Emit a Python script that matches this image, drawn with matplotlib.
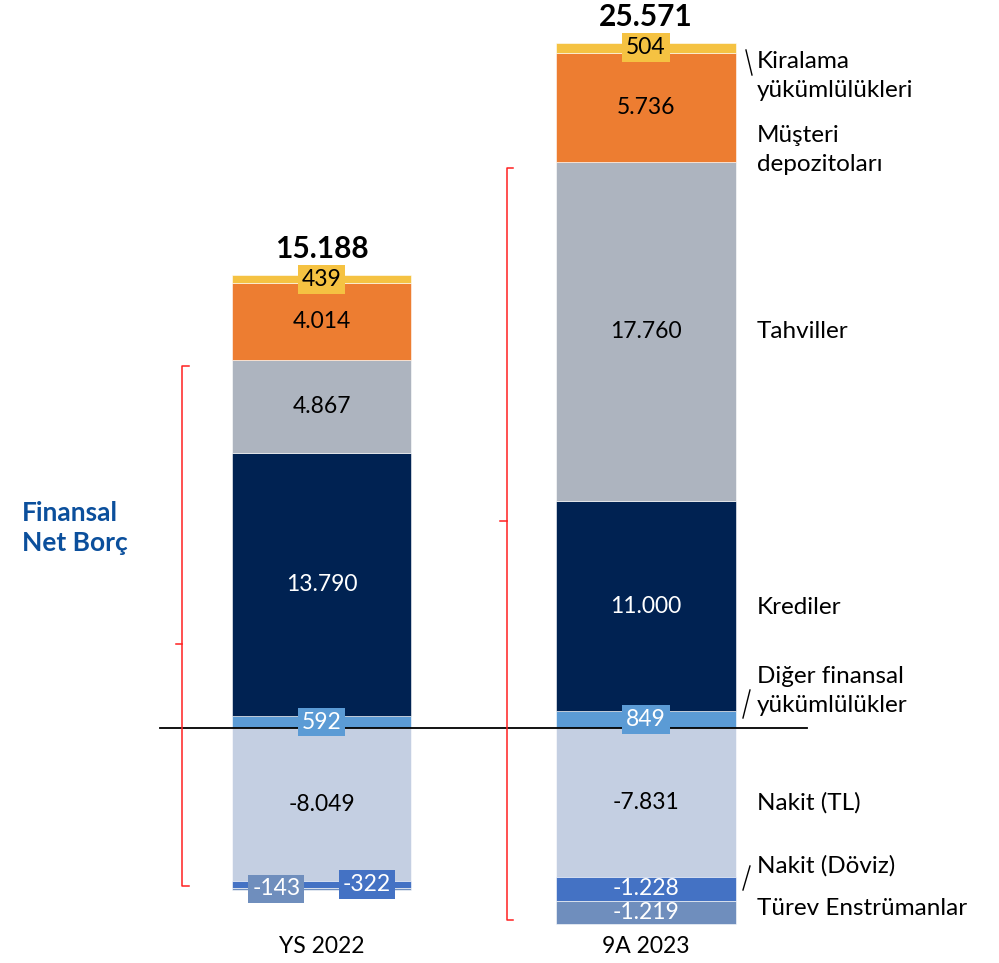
import numpy as np
import matplotlib
matplotlib.use('Agg')
import matplotlib.pyplot as plt

plt.rcParams['font.family'] = ['Lato', 'DejaVu Sans']

###############################################################################
##                                   Data                                    ##
###############################################################################

categories = ['YS 2022', '9A 2023']
totals = [15188, 25571]

# stacked from zero upwards
diger = [592, 849]
krediler = [13790, 11000]
tahviller = [4867, 17760]
musteri = [4014, 5736]
kiralama = [439, 504]

# stacked from zero downwards
nakit_tl = [-8049, -7831]
nakit_doviz = [-322, -1228]
turev = [-143, -1219]

seg_names = ['Diğer finansal\nyükümlülükler', 'Krediler', 'Tahviller',
             'Müşteri\ndepozitoları', 'Kiralama\nyükümlülükleri',
             'Nakit (TL)', 'Nakit (Döviz)', 'Türev Enstrümanlar']

###############################################################################
##                                   Style                                   ##
###############################################################################

C_DIGER = '#5b9bd5'
C_KREDI = '#002252'
C_TAHVIL = '#adb4bf'
C_MUSTERI = '#ed7d31'
C_KIRA = '#f5c242'
C_NAKIT_TL = '#c4cfe2'
C_DOVIZ = '#4472c4'
C_TUREV = '#6f8ebd'
C_BLUE_TXT = '#0b4f9c'

FS = 16.5
FS_LAB = 17.5
BAR_W = 0.553

def fmt(v):
    return '{:,}'.format(v).replace(',', '.')

###############################################################################
##                                   Plot                                    ##
###############################################################################

fig = plt.figure(figsize=(9.99, 9.63), dpi=100)
ax = fig.add_axes([0, 0, 1, 1])
ax.set_xlim(-0.991, 2.088)
ax.set_ylim(-12320, 38102)
ax.axis('off')

# helpers to go from pixel (from top-left) to data, used for the annotation bits
def px2x(p):
    return (p - 321.5) / 324.5

def px2y(p):
    return (727.7 - p) * 52.36

x = np.arange(len(categories))

pos_series = [(diger, C_DIGER, 'w'), (krediler, C_KREDI, 'w'), (tahviller, C_TAHVIL, 'k'),
              (musteri, C_MUSTERI, 'k'), (kiralama, C_KIRA, 'k')]
neg_series = [(nakit_tl, C_NAKIT_TL, 'k'), (nakit_doviz, C_DOVIZ, 'w'), (turev, C_TUREV, 'w')]

bottom_pos = np.zeros(len(x))
pos_bounds = []
for vals, col, tcol in pos_series:
    vals = np.array(vals, dtype=float)
    ax.bar(x, vals, BAR_W, bottom=bottom_pos, color=col, edgecolor='white', linewidth=0.4)
    pos_bounds.append((bottom_pos.copy(), bottom_pos + vals))
    bottom_pos = bottom_pos + vals

bottom_neg = np.zeros(len(x))
neg_bounds = []
for vals, col, tcol in neg_series:
    vals = np.array(vals, dtype=float)
    ax.bar(x, vals, BAR_W, bottom=bottom_neg, color=col, edgecolor='white', linewidth=0.4)
    neg_bounds.append((bottom_neg + vals, bottom_neg.copy()))
    bottom_neg = bottom_neg + vals

# segment value labels
def seg_label(i, lo, hi, val, col, tcol, dx=0.0, box=False):
    mid = (lo + hi) / 2
    kw = {}
    if box:
        kw['bbox'] = dict(boxstyle='square,pad=0.17', fc=col, ec='none')
    ax.text(x[i] + dx, mid, fmt(val), ha='center', va='center', fontsize=FS,
            color=tcol, **kw)

for k, (vals, col, tcol) in enumerate(pos_series):
    for i in range(len(x)):
        lo, hi = pos_bounds[k][0][i], pos_bounds[k][1][i]
        small = (hi - lo) < 1500
        seg_label(i, lo, hi, vals[i], col, tcol, box=small)

for k, (vals, col, tcol) in enumerate(neg_series):
    for i in range(len(x)):
        lo, hi = neg_bounds[k][0][i], neg_bounds[k][1][i]
        if i == 0 and k > 0:
            # the two tiny bands of the first bar get side by side boxes
            dx = 0.139 if k == 1 else -0.139
            seg_label(i, lo, hi, vals[i], col, tcol, dx=dx, box=True)
        else:
            seg_label(i, lo, hi, vals[i], col, tcol)

# totals on top
for i in range(len(x)):
    ax.annotate(fmt(totals[i]), (x[i], bottom_pos[i]), xytext=(0, 12),
                textcoords='offset points', ha='center', va='baseline',
                fontsize=21.5, fontweight='bold', color='black')

# category labels, same baseline for both bars
for i in range(len(x)):
    ax.text(x[i], px2y(946), categories[i], ha='center', va='center', fontsize=FS)

# zero line
ax.plot([px2x(160), px2x(807)], [0, 0], color='black', lw=1.3)

# brackets for Finansal Net Borc
for i, tick_frac in zip(range(len(x)), [0.535, 0.47]):
    top = pos_bounds[2][1][i] - 300
    bot = bottom_neg[i] + 200
    bx = x[i] - BAR_W / 2 - 0.153
    ax.plot([bx + 0.02, bx, bx, bx + 0.02], [top, top, bot, bot], color='#ff2020', lw=1.1)
    ym = top - (top - bot) * tick_frac
    ax.plot([bx - 0.02, bx], [ym, ym], color='#ff2020', lw=1.1)

ax.text(px2x(22), px2y(528), 'Finansal\nNet Borç', ha='left', va='center', fontsize=19,
        fontweight='bold', color=C_BLUE_TXT, linespacing=1.3)

# legend style labels on the right
lab_x = px2x(757)
lab_y = [px2y(691), px2y(607), px2y(332), px2y(150), px2y(76),
         px2y(803), px2y(866), px2y(908)]
for name, yy in zip(seg_names, lab_y):
    ax.text(lab_x, yy, name, ha='left', va='center', fontsize=FS_LAB, linespacing=1.45)

# little connector strokes
for (x0, y0), (x1, y1) in [((746, 50), (752, 75)), ((743, 718), (750, 690)),
                           ((743, 890), (750, 866))]:
    ax.plot([px2x(x0), px2x(x1)], [px2y(y0), px2y(y1)], color='black', lw=1)

fig.savefig('out.png', dpi=100)
